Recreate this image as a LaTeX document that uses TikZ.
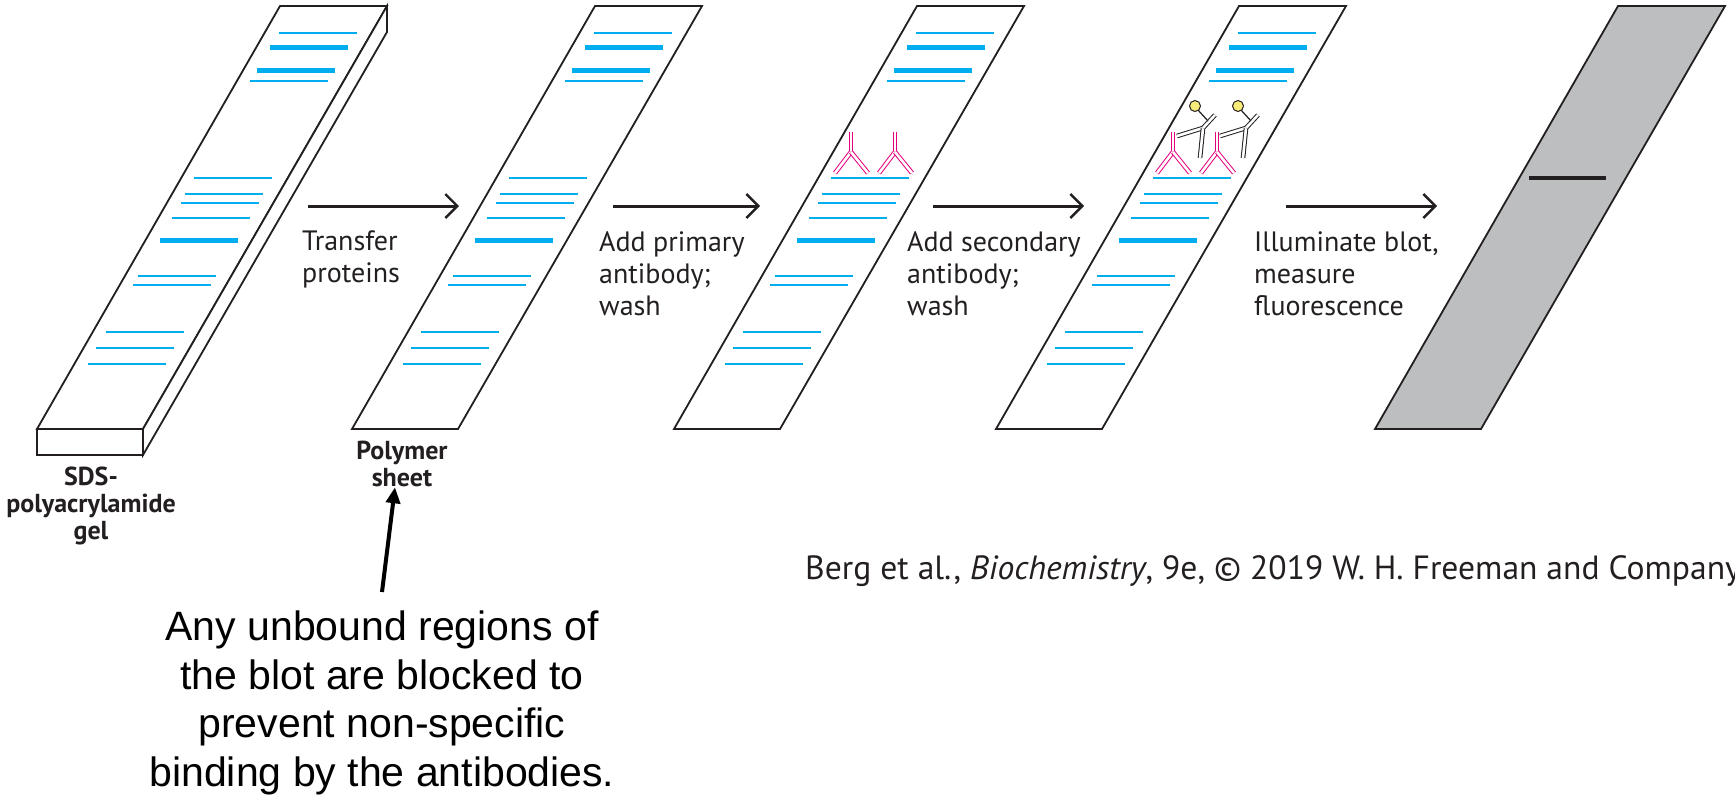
\documentclass[tikz,border=0pt]{standalone}
\usepackage{fontspec}
\setmainfont{PT Sans}
\newfontfamily\ari{Liberation Sans}
\usetikzlibrary{arrows.meta}
\definecolor{band}{HTML}{00AEEF}
\definecolor{pinkab}{HTML}{E6007E}
\definecolor{yel}{HTML}{F7EC7A}
\definecolor{blotgray}{HTML}{BCBEC0}
\definecolor{edge}{HTML}{231F20}
\tikzset{
  sheetbox/.style={draw=edge,line width=1.8pt,line join=miter},
  thinband/.style={draw=band,line width=2pt},
  thickband/.style={draw=band,line width=5pt},
  steparrow/.style={draw=edge,line width=3pt,-{Straight Barb[length=12pt,width=24pt,line width=2.4pt]}},
  steptext/.style={inner sep=0pt,anchor=north west,align=left,font=\fontsize{28}{32}\selectfont,text=edge},
  labeltext/.style={inner sep=0pt,anchor=north,align=center,font=\fontsize{26}{27}\selectfont\bfseries,text=edge},
  pinkab/.style={draw=pinkab,double=white,line width=1pt,double distance=2.6pt},
  secab/.style={draw=edge,double=white,line width=1pt,double distance=2.6pt},
}
\newcommand{\bandset}{%
  \foreach \bx/\by in {279/33,250/81,194/178,185/194,181/203,172/218,138/276,133/285,106/332,96/348,88/364}
    {\draw[thinband] (\bx,\by) -- ++(78,0);}
  \foreach \bx/\by in {270/47,257/70,160/240}
    {\draw[thickband] (\bx,\by) -- ++(78,0);}
}
\newcommand{\primaryabs}{%
  \foreach \dx in {0,44}{
    \begin{scope}[xshift=\dx]
      \draw[pinkab] (1173,132) -- (1173,152);
      \draw[pinkab] (1173,152) -- (1157,173);
      \draw[pinkab] (1173,152) -- (1190,173);
    \end{scope}}
}
\newcommand{\secondaryabs}{%
  \foreach \dx in {0,43}{
    \begin{scope}[xshift=\dx]
      \draw[secab] (1203,128) -- (1177,136);
      \draw[secab] (1203,128) -- (1200,158);
      \draw[secab] (1203,128) -- (1215,115);
      \draw[edge,line width=1.2pt] (1198,110) -- (1208,121);
      \draw[edge,line width=1pt,fill=yel] (1195,106) circle (5.5);
    \end{scope}}
}
\begin{document}
\begin{tikzpicture}[x=1pt,y=-1pt]
\useasboundingbox (0,0) rectangle (1735,796);
% gel
\draw[sheetbox,fill=white] (280,6) -- (387,6) -- (143,429) -- (37,429) -- cycle;
\draw[sheetbox,fill=white] (37,429) rectangle (143,455);
\draw[sheetbox,fill=white] (387,6) -- (387,32) -- (143,455) -- (143,429) -- cycle;
\bandset
% sheets 2-4
\foreach \s in {315,637,959}{
  \begin{scope}[xshift=\s]
    \draw[sheetbox,fill=white] (280,6) -- (387,6) -- (143,429) -- (37,429) -- cycle;
    \bandset
  \end{scope}}
\begin{scope}[xshift=-322]\primaryabs\end{scope}
\primaryabs
\secondaryabs
% gray blot
\draw[sheetbox,fill=blotgray] (1618,6) -- (1725,6) -- (1481,429) -- (1375,429) -- cycle;
\draw[edge,line width=4pt] (1529,178) -- (1606,178);
% step arrows and texts
\coordinate (a1s) at (308,206); \coordinate (a1e) at (459,206);
\coordinate (a2s) at (613,206); \coordinate (a2e) at (760,206);
\coordinate (a3s) at (933,206); \coordinate (a3e) at (1084,206);
\coordinate (a4s) at (1286,206); \coordinate (a4e) at (1437,206);
\draw[steparrow] (a1s) -- (a1e);
\draw[steparrow] (a2s) -- (a2e);
\draw[steparrow] (a3s) -- (a3e);
\draw[steparrow] (a4s) -- (a4e);
\node[steptext] (t1) at (302,231) {Transfer\\proteins};
\node[steptext] (t2) at (599,231) {Add primary\\antibody;\\wash};
\node[steptext] (t3) at (907,231) {Add secondary\\antibody;\\wash};
\node[steptext] (t4) at (1254,231) {Illuminate blot,\\measure\\fluorescence};
% labels
\node[labeltext] (gel) at (91,467) {SDS-\\polyacrylamide\\gel};
\node[labeltext] (poly) at (402,441) {Polymer\\sheet};
% note
\node[inner sep=0pt,anchor=north,align=center,font=\ari\fontsize{41}{48.5}\selectfont] (note) at (382,611)
  {Any unbound regions of\\the blot are blocked to\\prevent non-specific\\binding by the antibodies.};
\coordinate (ns) at (382,592);
\draw[black,line width=4pt,-{Triangle[length=16pt,width=14pt]}] (ns) -- (poly.south -| 395,0);
% citation
\node[inner sep=0pt,anchor=base west,font=\fontsize{33.6}{36}\selectfont,text=edge] (cite) at (805,579)
  {Berg et al., \textit{Biochemistry}, 9e, © 2019 W. H. Freeman and Company};
\end{tikzpicture}
\end{document}
